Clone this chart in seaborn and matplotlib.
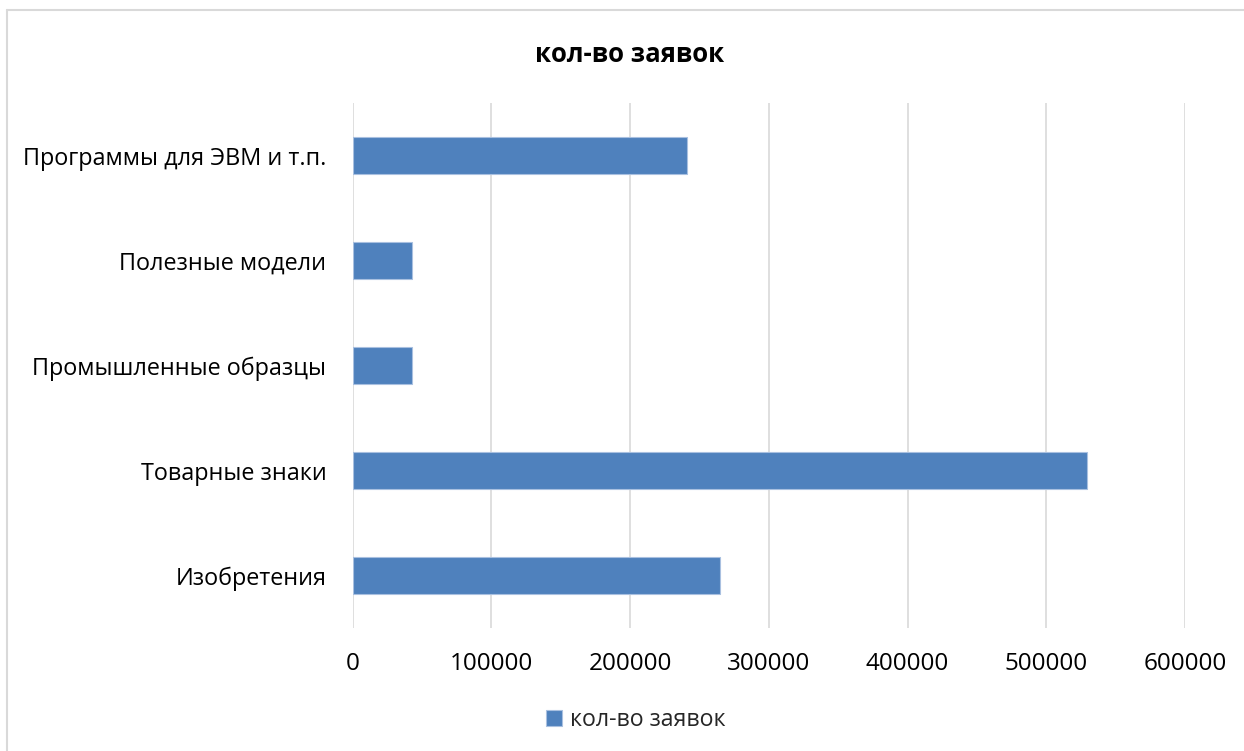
import matplotlib
matplotlib.use("Agg")
import matplotlib.pyplot as plt
import seaborn as sns
import pandas as pd

categories = ["Программы для ЭВМ и т.п.", "Полезные модели", "Промышленные образцы",
              "Товарные знаки", "Изобретения"]
values = [240800, 43000, 42500, 529200, 264800]
x_ticks = [0, 100000, 200000, 300000, 400000, 500000, 600000]
series_name = "кол-во заявок"

sns.set_theme(style="white")
plt.rcParams['font.family'] = ['Open Sans', 'DejaVu Sans']

df = pd.DataFrame({"cat": categories, "val": values})

fig = plt.figure(figsize=(12.44, 7.51), dpi=100)
ax = fig.add_axes([0.2835, 0.1638, 0.9526 - 0.2835, 0.8628 - 0.1638])

sns.barplot(data=df, x="val", y="cat", order=categories, orient="h",
            color="#4F81BD", saturation=1, width=0.36, ax=ax,
            edgecolor="#A9C0E0", linewidth=0.8, label=series_name, zorder=3)

ax.set_xlim(0, 600000)
ax.set_xticks(x_ticks)
ax.set_xticklabels([str(v) for v in x_ticks])
ax.set_xlabel("")
ax.set_ylabel("")
ax.grid(axis="x", color="#D9D9D9", linewidth=1.2, zorder=0)
ax.grid(axis="y", visible=False)
for s in ax.spines.values():
    s.set_visible(False)
ax.tick_params(axis="x", length=0, pad=17, labelsize=17.5, colors="#000000")
ax.tick_params(axis="y", length=0, pad=19, labelsize=16.8, colors="#000000")

handles, labels = ax.get_legend_handles_labels()
if ax.get_legend() is not None:
    ax.get_legend().remove()

fig.text(630 / 1244, 1 - 55 / 751, series_name, ha="center", va="center",
         fontsize=18.5, fontweight="bold", color="#000000")

leg = fig.legend(handles, labels, loc="center", bbox_to_anchor=(636 / 1244, 1 - 720 / 751),
                 frameon=False, fontsize=16.7, handlelength=0.7, handleheight=0.7,
                 handletextpad=0.35)

# chart border (left and top visible)
fig.add_artist(plt.Line2D([7 / 1244, 7 / 1244], [0, 1 - 10 / 751], color="#D9D9D9",
                          linewidth=1.5, transform=fig.transFigure))
fig.add_artist(plt.Line2D([7 / 1244, 1], [1 - 10 / 751, 1 - 10 / 751], color="#D9D9D9",
                          linewidth=1.5, transform=fig.transFigure))

fig.savefig("out.png", dpi=100)
